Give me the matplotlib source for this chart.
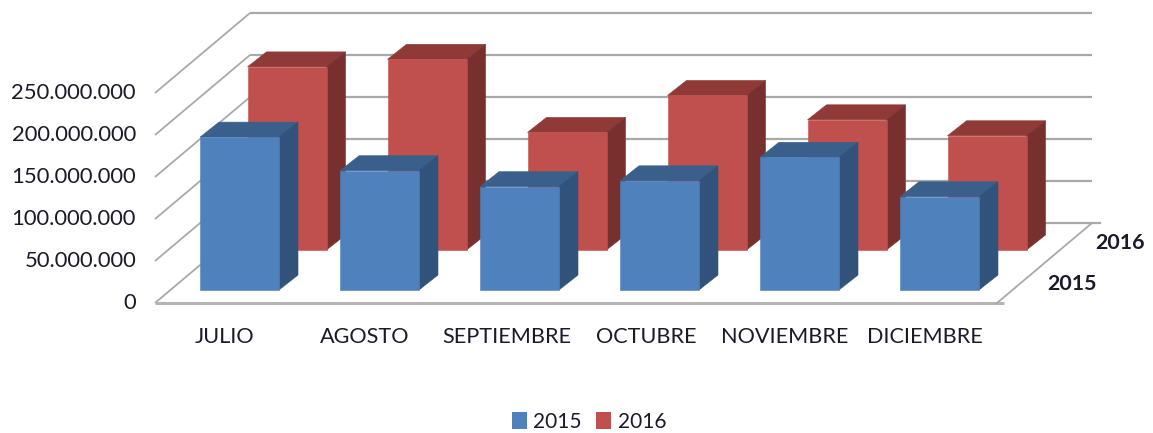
import matplotlib
matplotlib.use("Agg")
import matplotlib.pyplot as plt
from matplotlib.patches import Polygon, Patch

months = ["JULIO", "AGOSTO", "SEPTIEMBRE", "OCTUBRE", "NOVIEMBRE", "DICIEMBRE"]
values_2015 = [182000000, 142000000, 123000000, 130000000, 158000000, 111000000]
values_2016 = [218000000, 227000000, 140000000, 184000000, 155000000, 136000000]
y_ticks = [0, 50000000, 100000000, 150000000, 200000000, 250000000]
y_tick_labels = ["0", "50.000.000", "100.000.000", "150.000.000", "200.000.000", "250.000.000"]
series_names = ["2015", "2016"]

W, H = 1153, 433
PX_X = 140.0            # pixels per category
PX_Y = 0.84e-6          # pixels per value unit
X0, Y0 = 200.0, 290.0   # pixel of category 0 / value 0 (front series)

fig = plt.figure(figsize=(W / 100, H / 100), dpi=100)
ax = fig.add_axes([0, 0, 1, 1])
ax.set_xlim((0 - X0) / PX_X, (W - X0) / PX_X)
ax.set_ylim((Y0 - H) / PX_Y, Y0 / PX_Y)
ax.axis("off")

dxu = lambda px: px / PX_X
dyu = lambda px: px / PX_Y

FONT = ["Lato", "DejaVu Sans"]
GRID = "#a9a9a9"
INK = "#1a1a2a"

# wall / floor frame
x_fl = dxu(155 - X0)
x_bl = dxu(250 - X0)
x_br = dxu(1092 - X0)
x_fr = dxu(997 - X0)
y_f = dyu(Y0 - 303)
y_b = dyu(Y0 - 223)
for v in y_ticks:
    ax.plot([x_fl, x_bl], [y_f + v, y_b + v], color=GRID, lw=1.3, solid_capstyle="butt", zorder=1)
    ax.plot([x_bl, x_br], [y_b + v, y_b + v], color=GRID, lw=1.6, solid_capstyle="butt", zorder=1)
ax.plot([x_br, dxu(1100 - X0)], [y_b, y_b], color=GRID, lw=1.6, zorder=1)
ax.plot([x_fl, dxu(1004 - X0)], [y_f, y_f], color="#b5b5b5", lw=2.2, solid_capstyle="butt", zorder=1)
ax.plot([x_fr, x_br], [y_f, y_b], color=GRID, lw=1.3, zorder=1)

for i, lab in enumerate(y_tick_labels):
    ax.text(dxu(136 - X0), y_f + y_ticks[i], lab, ha="right", va="center",
            fontsize=15.8, family=FONT, color=INK, zorder=5)

BW = 79 / PX_X
DX = dxu(19)
DY = dyu(15)


def bar(x, base, v, front, top, side, z):
    ax.add_patch(Polygon([(x, base), (x + BW, base), (x + BW, base + v), (x, base + v)],
                         fc=front, ec=front, lw=0.4, zorder=z + 0.2))
    ax.add_patch(Polygon([(x, base + v), (x + BW, base + v), (x + BW + DX, base + v + DY), (x + DX, base + v + DY)],
                         fc=top, ec=top, lw=0.4, zorder=z + 0.1))
    ax.add_patch(Polygon([(x + BW, base), (x + BW + DX, base + DY), (x + BW + DX, base + v + DY), (x + BW, base + v)],
                         fc=side, ec=side, lw=0.4, zorder=z + 0.1))


for i, v in enumerate(values_2016):
    bar(i + dxu(47.5), dyu(40), v, "#c0504d", "#8f3a37", "#77302e", 2)
for i, v in enumerate(values_2015):
    bar(i, 0, v, "#4f81bd", "#3a5f8b", "#31527a", 3)

label_x = [225, 365, 507, 646, 785, 925]
for lx, m in zip(label_x, months):
    ax.text(dxu(lx - X0), dyu(Y0 - 337), m, ha="center", va="center",
            fontsize=15.6, family=FONT, color=INK, zorder=5)

ax.text(dxu(1120 - X0), dyu(Y0 - 243), series_names[1], ha="center", va="center",
        fontsize=15.4, family=FONT, weight="bold", color=INK, zorder=5)
ax.text(dxu(1072 - X0), dyu(Y0 - 284), series_names[0], ha="center", va="center",
        fontsize=15.4, family=FONT, weight="bold", color=INK, zorder=5)

handles = [Patch(fc="#4f81bd", label=series_names[0]), Patch(fc="#c0504d", label=series_names[1])]
ax.legend(handles=handles, loc="center", bbox_to_anchor=(589 / W, 1 - 422 / H), ncol=2, frameon=False,
          prop={"family": FONT, "size": 15}, handlelength=0.72, handleheight=0.9,
          handletextpad=0.3, columnspacing=0.7, labelcolor=INK)

fig.savefig("out.png", dpi=100)
